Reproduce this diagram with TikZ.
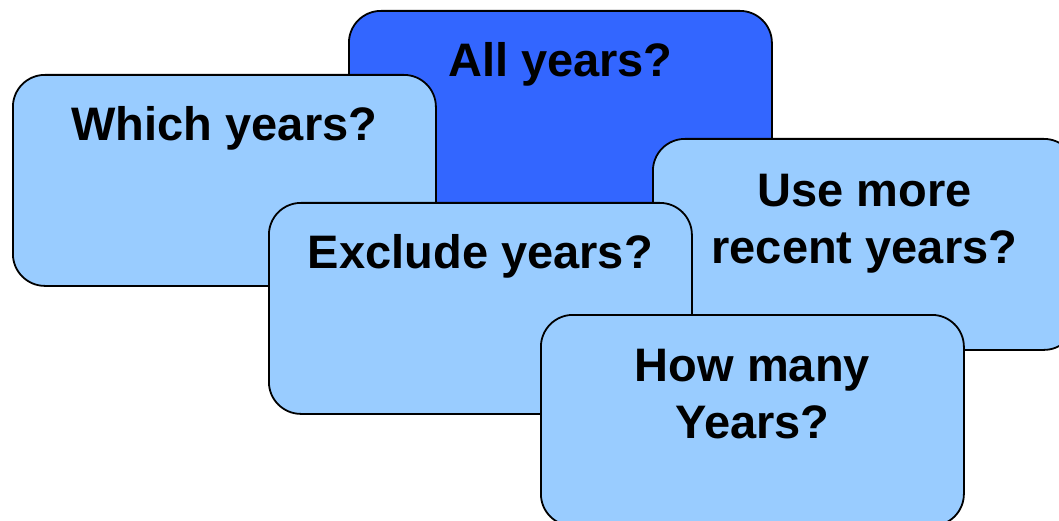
\documentclass[tikz,border=0pt]{standalone}
\usepackage{fontspec}
\setmainfont{Liberation Sans}
\definecolor{boxdark}{HTML}{3366FF}
\definecolor{boxlight}{HTML}{99CCFF}
\begin{document}
\begin{tikzpicture}[x=1pt,y=-1pt,
  box/.style={draw=black, line width=1.8pt, rounded corners=32pt, minimum width=423pt, minimum height=211pt, inner sep=0pt, anchor=north west},
  darkbox/.style={box, fill=boxdark},
  lightbox/.style={box, fill=boxlight},
  lbl/.style={font=\fontsize{47}{57}\selectfont\bfseries, align=center, inner sep=0pt, anchor=base}]
\useasboundingbox (0,0) rectangle (1059,521);
\node[darkbox] (all) at (348,10) {};
\node[lbl] (allt) at ([yshift=-67pt]all.north) {All years?};
\node[lightbox] (which) at (12,74) {};
\node[lbl] (whicht) at ([yshift=-67pt]which.north) {Which years?};
\node[lightbox] (recent) at (652,138) {};
\node[lbl] (recentt) at ([yshift=-125pt]recent.north) {Use more\\recent years?};
\node[lightbox] (excl) at (268,202) {};
\node[lbl] (exclt) at ([yshift=-67pt]excl.north) {Exclude years?};
\node[lightbox] (many) at (540,314) {};
\node[lbl] (manyt) at ([yshift=-124pt]many.north) {How many\\Years?};
\end{tikzpicture}
\end{document}
